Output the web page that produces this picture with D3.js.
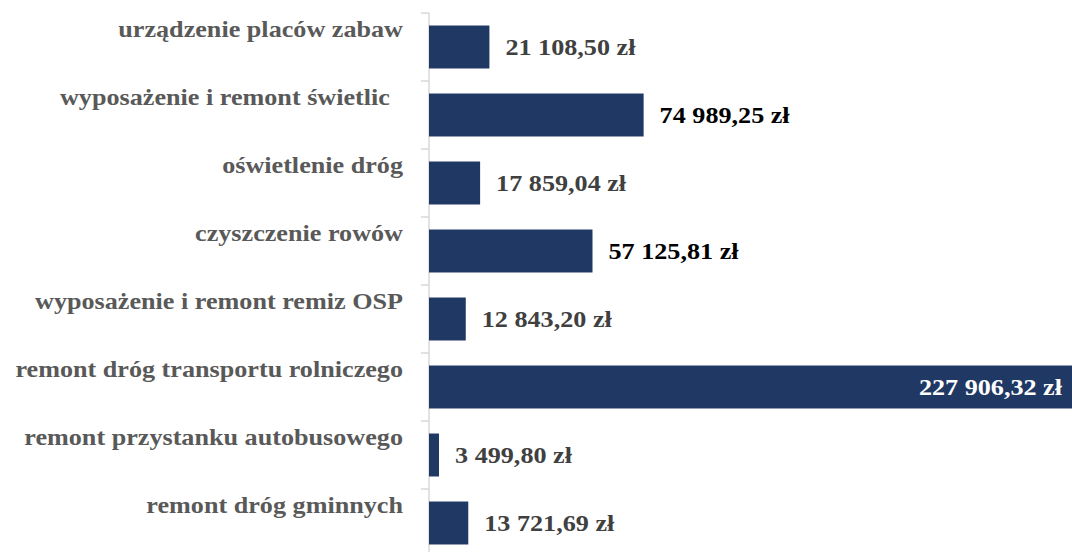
<!DOCTYPE html>
<html>
<head>
<meta charset="utf-8">
<script src="https://cdn.jsdelivr.net/npm/d3@7"></script>
<style>
  body { margin: 0; background: #fff; }
  svg text { font-family: "Liberation Serif", "Times New Roman", serif; font-weight: bold; white-space: pre; }
</style>
</head>
<body>
<div id="chart"></div>
<script>
// data
var categories = [
  "urządzenie placów zabaw",
  "wyposażenie i remont świetlic  ",
  "oświetlenie dróg",
  "czyszczenie rowów",
  "wyposażenie i remont remiz OSP",
  "remont dróg transportu rolniczego",
  "remont przystanku autobusowego",
  "remont dróg gminnych"
];
var amounts = [21108.50, 74989.25, 17859.04, 57125.81, 12843.20, 227906.32, 3499.80, 13721.69];

var svgWidth = 1072;
var svgHeight = 552;
var axisX = 429;
var fontSize = 24;
var stretch = 1.09; // text in the picture is a bit wider than plain Times

var svg = d3.select("#chart").append("svg")
  .attr("width", svgWidth)
  .attr("height", svgHeight);

// polish number format: "21 108,50 zł"
var pl = d3.formatLocale({decimal: ",", thousands: "\u00a0", grouping: [3], currency: ["", " zł"]});
var fmt = pl.format(",.2f");

var y = d3.scaleBand()
  .domain(categories)
  .range([13, 13 + 68 * categories.length])
  .paddingInner(0.368)
  .paddingOuter(0.184);

var x = d3.scaleLinear()
  .domain([0, d3.max(amounts)])
  .range([axisX, axisX + 2.862e-3 * d3.max(amounts)]);

var gap = (y.step() - y.bandwidth()) / 2;

// axis line + ticks on band borders
var axisG = svg.append("g").attr("class", "axis");
axisG.append("line")
  .attr("x1", axisX).attr("x2", axisX)
  .attr("y1", y.range()[0]).attr("y2", svgHeight)
  .attr("stroke", "#d9d9d9").attr("stroke-width", 1.5);
axisG.selectAll(".tick")
  .data(categories)
  .enter().append("line")
  .attr("x1", axisX - 8).attr("x2", axisX)
  .attr("y1", function(d) { return y(d) - gap; })
  .attr("y2", function(d) { return y(d) - gap; })
  .attr("stroke", "#d9d9d9").attr("stroke-width", 1.5);

// bars
svg.selectAll(".bar")
  .data(categories)
  .enter().append("rect")
  .attr("class", "bar")
  .attr("x", axisX)
  .attr("y", function(d) { return y(d); })
  .attr("width", function(d, i) { return x(amounts[i]) - axisX; })
  .attr("height", y.bandwidth())
  .attr("fill", "#1f3864");

// category labels
svg.selectAll(".cat")
  .data(categories)
  .enter().append("text")
  .attr("class", "cat")
  .attr("transform", function(d) {
    return "translate(403," + (y(d) + y.bandwidth() / 2 - 10) + ") scale(" + stretch + ",1)";
  })
  .attr("text-anchor", "end")
  .attr("font-size", fontSize)
  .attr("fill", "#595959")
  .text(function(d) { return d; });

// value labels
var darkLabels = [1, 3];
svg.selectAll(".val")
  .data(categories)
  .enter().append("text")
  .attr("class", "val")
  .attr("transform", function(d, i) {
    var end = x(amounts[i]);
    var tx = end > svgWidth ? svgWidth - 10 : end + 16;
    return "translate(" + tx + "," + (y(d) + y.bandwidth() / 2) + ") scale(" + stretch + ",1)";
  })
  .attr("dy", "0.35em")
  .attr("text-anchor", function(d, i) { return x(amounts[i]) > svgWidth ? "end" : "start"; })
  .attr("font-size", fontSize)
  .attr("fill", function(d, i) {
    if (x(amounts[i]) > svgWidth) return "#fff";
    return darkLabels.indexOf(i) >= 0 ? "#000" : "#404040";
  })
  .text(function(d, i) { return fmt(amounts[i]) + " zł"; });
</script>
</body>
</html>
